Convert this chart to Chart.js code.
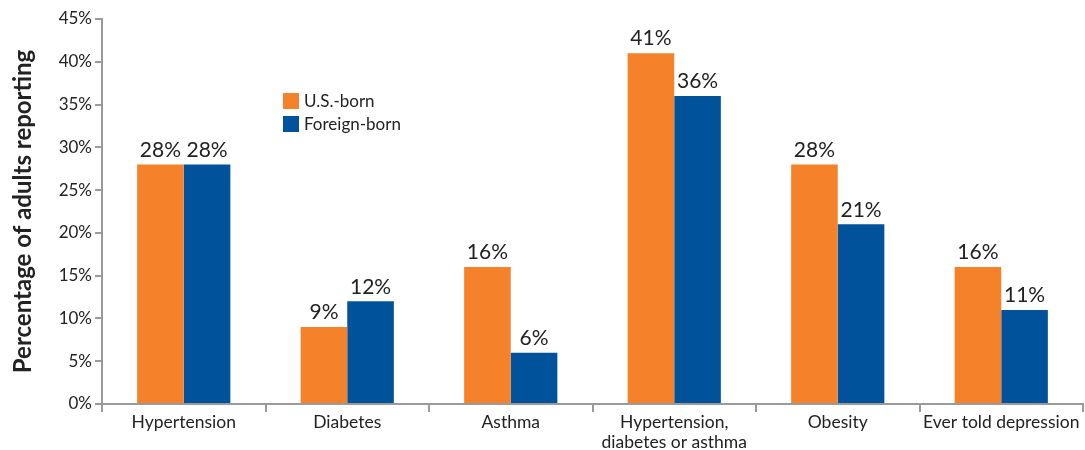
<!DOCTYPE html>
<html>
<head>
<meta charset="utf-8">
<script src="https://cdn.jsdelivr.net/npm/chart.js@4/dist/chart.umd.min.js"></script>
<style>
  html, body { margin: 0; padding: 0; background: #fff; }
  #wrap { width: 1085px; height: 450px; position: relative; }
</style>
</head>
<body>
<div id="wrap"><canvas id="c"></canvas></div>
<script>
const categories = [
  'Hypertension',
  'Diabetes',
  'Asthma',
  ['Hypertension,', 'diabetes or asthma'],
  'Obesity',
  'Ever told depression'
];
const usBorn = [28, 9, 16, 41, 28, 16];
const foreignBorn = [28, 12, 6, 36, 21, 11];
const yTicks = [0, 5, 10, 15, 20, 25, 30, 35, 40, 45];

const ORANGE = '#F5822A';
const BLUE = '#00529B';
const FONT = 'Lato, "Open Sans", sans-serif';

// Percent labels above each bar
const barLabels = {
  id: 'barLabels',
  afterDatasetsDraw(chart) {
    const ctx = chart.ctx;
    ctx.save();
    ctx.font = '21px ' + FONT;
    ctx.fillStyle = '#222';
    ctx.textAlign = 'center';
    ctx.textBaseline = 'bottom';
    chart.data.datasets.forEach((ds, i) => {
      chart.getDatasetMeta(i).data.forEach((bar, j) => {
        ctx.fillText(ds.data[j] + '%', bar.x, bar.y - 4);
      });
    });
    ctx.restore();
  }
};

// Legend box placed inside the plot area
const innerLegend = {
  id: 'innerLegend',
  afterDraw(chart) {
    const ctx = chart.ctx;
    const x = chart.chartArea.left + 181;
    let y = chart.chartArea.top + 74;
    ctx.save();
    ctx.font = '17px ' + FONT;
    ctx.textBaseline = 'middle';
    ctx.textAlign = 'left';
    chart.data.datasets.forEach(ds => {
      ctx.fillStyle = ds.backgroundColor;
      ctx.fillRect(x, y, 16, 16);
      ctx.fillStyle = '#222';
      ctx.fillText(ds.label, x + 21, y + 9);
      y += 23;
    });
    ctx.restore();
  }
};

new Chart(document.getElementById('c'), {
  type: 'bar',
  data: {
    labels: categories,
    datasets: [
      { label: 'U.S.-born', data: usBorn, backgroundColor: ORANGE },
      { label: 'Foreign-born', data: foreignBorn, backgroundColor: BLUE }
    ]
  },
  options: {
    responsive: true,
    maintainAspectRatio: false,
    animation: false,
    layout: { padding: { top: 19, right: 2, left: 0, bottom: 0 } },
    datasets: { bar: { categoryPercentage: 0.57, barPercentage: 1.0 } },
    plugins: {
      legend: { display: false },
      tooltip: { enabled: false }
    },
    scales: {
      x: {
        grid: {
          display: true,
          offset: true,
          drawOnChartArea: false,
          drawTicks: true,
          tickLength: 8,
          color: '#9a9a9a',
          lineWidth: 2
        },
        border: { display: true, color: '#9a9a9a', width: 2 },
        ticks: {
          color: '#222',
          font: { family: FONT, size: 17.5, lineHeight: 1.1 },
          padding: 1,
          maxRotation: 0,
          autoSkip: false
        },
        afterFit(scale) { scale.height = 46; }
      },
      y: {
        min: 0,
        max: 45,
        afterBuildTicks(scale) {
          scale.ticks = yTicks.map(v => ({ value: v }));
        },
        grid: {
          display: true,
          drawOnChartArea: false,
          drawTicks: true,
          tickLength: 7,
          color: '#9a9a9a',
          lineWidth: 2
        },
        border: { display: true, color: '#9a9a9a', width: 2 },
        ticks: {
          color: '#222',
          font: { family: FONT, size: 17 },
          padding: 3,
          callback: v => v + '%'
        },
        title: {
          display: true,
          text: 'Percentage of adults reporting',
          color: '#222',
          font: { family: FONT, size: 24, weight: 'bold' },
          padding: { top: 9, bottom: 0 }
        },
        afterFit(scale) { scale.width = 102; }
      }
    }
  },
  plugins: [barLabels, innerLegend]
});
</script>
</body>
</html>
